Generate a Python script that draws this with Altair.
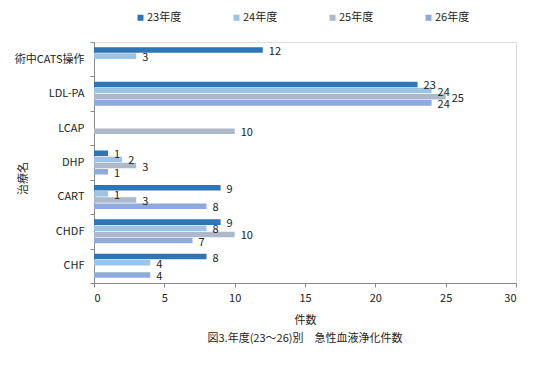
import altair as alt
import pandas as pd

categories = ["術中CATS操作", "LDL-PA", "LCAP", "DHP", "CART", "CHDF", "CHF"]
years = ["23年度", "24年度", "25年度", "26年度"]
v23 = [12, 23, None, 1, 9, 9, 8]
v24 = [3, 24, None, 2, 1, 8, 4]
v25 = [None, 25, 10, 3, 3, 10, None]
v26 = [None, 24, None, 1, 8, 7, 4]
colors = ["#2e75b6", "#9dc3e6", "#adb9ca", "#8faadc"]

rows = []
for yr, vals in zip(years, [v23, v24, v25, v26]):
    for c, v in zip(categories, vals):
        if v is not None:
            rows.append({"cat": c, "year": yr, "value": v})
df = pd.DataFrame(rows)

FONT = "Noto Sans CJK JP"

y = alt.Y("cat:N", sort=categories, title="治療名",
          scale=alt.Scale(paddingInner=0, paddingOuter=0),
          axis=alt.Axis(tickBand="extent", labelFontSize=11, labelColor="#222",
                        titleFontSize=11, titleFontWeight="normal", titleColor="#222",
                        titleX=-66, titleY=136, titleAngle=-90,
                        domainColor="#888", tickColor="#888", tickSize=4, labelPadding=6))
yoff = alt.YOffset("year:N", sort=years,
                   scale=alt.Scale(domain=years, paddingOuter=0.85, paddingInner=0.1))
x = alt.X("value:Q", title="件数",
          scale=alt.Scale(domain=[0, 30], nice=False),
          axis=alt.Axis(values=[0, 5, 10, 15, 20, 25, 30], grid=False,
                        labelFontSize=11, labelColor="#222", titleFontSize=11,
                        titleFontWeight="normal", titleColor="#222",
                        domainColor="#888", tickColor="#888", tickSize=4,
                        labelPadding=5, titlePadding=11))

color = alt.Color("year:N", sort=years,
                  scale=alt.Scale(domain=years, range=colors),
                  legend=alt.Legend(title=None, orient="none", direction="horizontal",
                                    legendX=41, legendY=-30, symbolType="square",
                                    symbolSize=36, labelFontSize=11, labelColor="#222",
                                    columnPadding=49, symbolStrokeWidth=0,
                                    labelOffset=1))

base = alt.Chart(df)
bars = base.mark_bar(height={"band": 1}).encode(y=y, yOffset=yoff, x=x, color=color)
labels = base.mark_text(align="left", baseline="middle", dx=6, dy=2,
                        fontSize=11, font=FONT, color="#222").encode(
    y=y, yOffset=yoff, x=x, text="value:Q")

chart = (bars + labels).properties(
    width=422, height=241,
    autosize=alt.AutoSizeParams(type="none"),
    padding={"left": 86, "top": 34, "right": 30, "bottom": 85},
    title=alt.TitleParams("図3.年度(23～26)別　急性血液浄化件数", orient="bottom",
                          fontSize=11, fontWeight="normal", color="#222",
                          font=FONT, offset=8),
).configure_view(fill="#ddf0ef", stroke=None).configure(font=FONT)

chart.save("out.html", embed_options={"renderer": "svg", "actions": False})
